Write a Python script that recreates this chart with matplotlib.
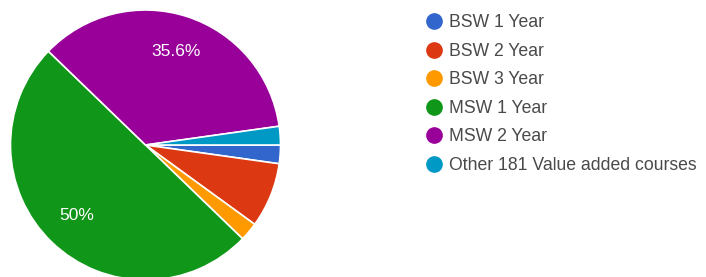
import matplotlib
matplotlib.use('Agg')
import matplotlib.pyplot as plt
from matplotlib.lines import Line2D

labels = ['BSW 1 Year', 'BSW 2 Year', 'BSW 3 Year', 'MSW 1 Year', 'MSW 2 Year',
          'Other 181 Value added courses']
counts = [2, 7, 2, 45, 32, 2]
colors = ['#3366cc', '#dc3912', '#ff9900', '#109618', '#990099', '#0099c6']

plt.rcParams['font.family'] = ['Liberation Sans', 'DejaVu Sans']

W, H = 706, 277
fig = plt.figure(figsize=(W / 100, H / 100), dpi=100)

# pie centre ~ (145.5, 145) px, radius ~135 px
cx, cy, r = 145.5, 145.0, 135.0
ax = fig.add_axes(((cx - r) / W, (H - cy - r) / H, 2 * r / W, 2 * r / H))


def fmt(p):
    if p < 10:
        return ''
    s = f'{p:.1f}'.rstrip('0').rstrip('.')
    return s + '%'


wedges, texts, autotexts = ax.pie(counts, colors=colors, startangle=0, counterclock=False,
                                  radius=1.0, autopct=fmt, pctdistance=0.73,
                                  wedgeprops=dict(edgecolor='white', linewidth=1.2),
                                  textprops=dict(color='white', fontsize=12.5))
ax.set_xlim(-1, 1)
ax.set_ylim(-1, 1)
ax.set_aspect('auto')
ax.axis('off')

handles = [Line2D([], [], marker='o', linestyle='', markersize=11,
                  markerfacecolor=c, markeredgecolor=c) for c in colors]
leg = fig.legend(handles, labels, loc='upper left',
                 bbox_to_anchor=(413 / W, (H - 2) / H), frameon=False,
                 fontsize=12.7, labelcolor='#4a4a4a', handlelength=1.0,
                 handletextpad=0.35, labelspacing=0.65, borderpad=0.2)

fig.savefig('out.png', dpi=100)
